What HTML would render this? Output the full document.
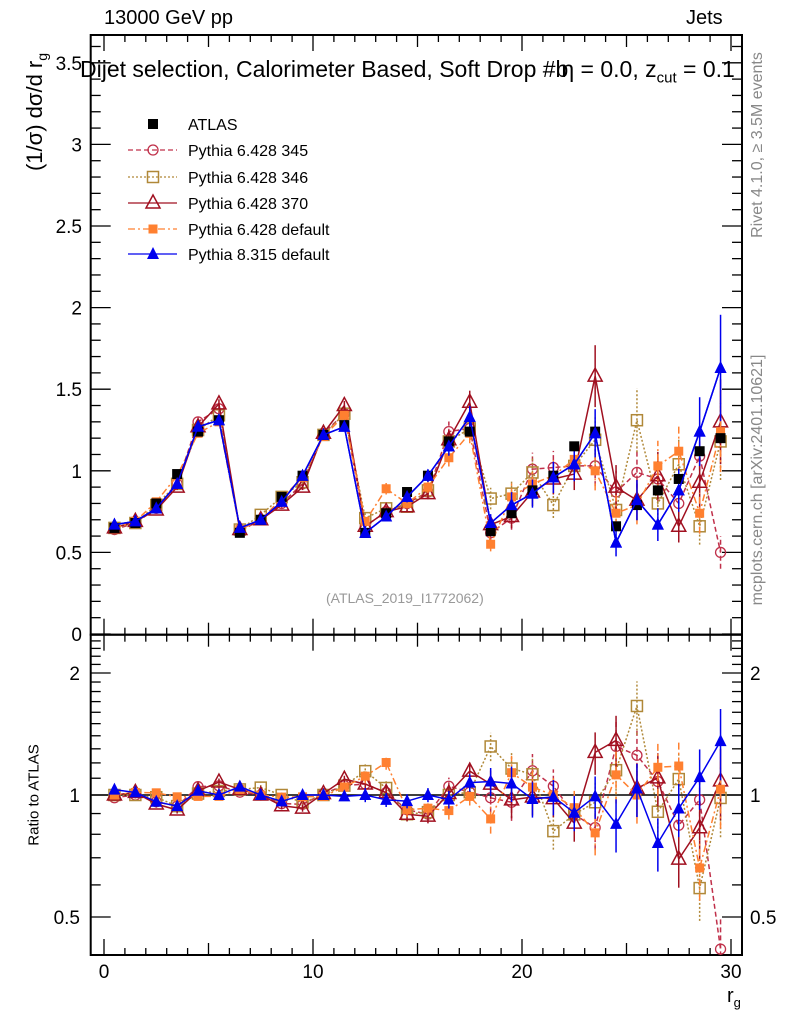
<!DOCTYPE html>
<html><head><meta charset="utf-8"><style>
body{margin:0;background:#fff;}
svg{display:block;font-family:"Liberation Sans",sans-serif;}
</style></head><body>
<svg id="c" width="786" height="1024" xmlns="http://www.w3.org/2000/svg"></svg>
<script>
const bins=[0.5,1.5,2.5,3.5,4.5,5.5,6.5,7.5,8.5,9.5,10.5,11.5,12.5,13.5,14.5,15.5,16.5,17.5,18.5,19.5,20.5,21.5,22.5,23.5,24.5,25.5,26.5,27.5,28.5,29.5];
const atlas=[0.65,0.68,0.80,0.98,1.24,1.31,0.62,0.70,0.84,0.97,1.22,1.28,0.62,0.74,0.87,0.97,1.18,1.24,0.63,0.74,0.88,0.97,1.15,1.24,0.66,0.79,0.88,0.95,1.12,1.20];
const p345=[0.64,0.68,0.77,0.92,1.30,1.38,0.63,0.70,0.80,0.92,1.23,1.35,0.66,0.75,0.80,0.87,1.24,1.26,0.62,0.71,1.01,1.02,1.03,1.03,0.87,0.99,0.95,0.80,1.09,0.50];
const p346=[0.65,0.68,0.79,0.92,1.25,1.34,0.64,0.73,0.84,0.93,1.22,1.35,0.71,0.77,0.78,0.88,1.18,1.26,0.83,0.86,0.99,0.79,1.03,1.19,0.76,1.31,0.80,1.04,0.66,1.18];
const p370=[0.65,0.69,0.76,0.90,1.27,1.41,0.64,0.70,0.79,0.90,1.23,1.40,0.66,0.75,0.78,0.86,1.19,1.42,0.67,0.72,0.87,0.95,0.98,1.58,0.90,0.82,0.97,0.66,0.93,1.30];
const p6def=[0.65,0.69,0.81,0.97,1.23,1.30,0.64,0.70,0.83,0.96,1.21,1.34,0.69,0.89,0.80,0.90,1.08,1.23,0.55,0.84,0.92,0.97,1.07,1.00,0.74,0.79,1.03,1.12,0.74,1.24];
const p8def=[0.67,0.69,0.77,0.92,1.27,1.31,0.65,0.70,0.81,0.97,1.22,1.27,0.62,0.72,0.84,0.97,1.15,1.33,0.68,0.79,0.86,0.96,1.04,1.23,0.56,0.82,0.67,0.88,1.24,1.63];
const relErr=[0.02,0.02,0.02,0.02,0.02,0.02,0.02,0.02,0.02,0.02,0.02,0.02,0.04,0.04,0.04,0.04,0.05,0.05,0.08,0.1,0.1,0.1,0.1,0.12,0.15,0.15,0.15,0.15,0.17,0.2];
const yTicksTop=["0","0.5","1","1.5","2","2.5","3","3.5"];
const xTicks=[0,10,20,30];

const NS="http://www.w3.org/2000/svg";
const svg=document.getElementById('c');
function el(t,a,p){const e=document.createElementNS(NS,t);for(const k in a)e.setAttribute(k,a[k]);(p||svg).appendChild(e);return e;}
const L=90.7,R=742,T=35,M=634.7,B=955;
const X=v=>104+20.9*v;
const Y=v=>634-163.2*v;
const YR=r=>795-122*Math.log2(r);

const series=[
 {name:"Pythia 6.428 345",d:p345,c:"#c0304a",dash:"5,3",m:"circ"},
 {name:"Pythia 6.428 346",d:p346,c:"#b08838",dash:"2,2",m:"osq"},
 {name:"Pythia 6.428 370",d:p370,c:"#a01020",dash:"",m:"otri"},
 {name:"Pythia 6.428 default",d:p6def,c:"#ff8030",dash:"7,3,2,3",m:"fsq"},
 {name:"Pythia 8.315 default",d:p8def,c:"#0000ee",dash:"",m:"ftri"}];

function marker(g,m,x,y,c){
 if(m=="circ")el('circle',{cx:x,cy:y,r:5,fill:"none",stroke:c,"stroke-width":1.3},g);
 else if(m=="osq")el('rect',{x:x-5.5,y:y-5.5,width:11,height:11,fill:"none",stroke:c,"stroke-width":1.5},g);
 else if(m=="fsq")el('rect',{x:x-4.5,y:y-4.5,width:9,height:9,fill:c},g);
 else if(m=="bsq")el('rect',{x:x-5,y:y-5,width:10,height:10,fill:c},g);
 else if(m=="otri")el('polygon',{points:`${x},${y-8} ${x-7},${y+5} ${x+7},${y+5}`,fill:"none",stroke:c,"stroke-width":1.5},g);
 else el('polygon',{points:`${x},${y-7} ${x-6},${y+5} ${x+6},${y+5}`,fill:c},g);
}
function clipR(id,y0,y1){const d=el('clipPath',{id:id});el('rect',{x:L,y:y0,width:R-L,height:y1-y0},d);}
clipR('ct',T,M);clipR('cb',M,B);

el('rect',{x:L,y:T,width:R-L,height:M-T,fill:"none",stroke:"#000","stroke-width":2,});
el('rect',{x:L,y:M,width:R-L,height:B-M,fill:"none",stroke:"#000","stroke-width":2,});

for(let i=0;i<=30;i++){const x=X(i);const len=i%10==0?16:(i%5==0?12:7);
 for(const [y0,dir] of [[T,1],[M,-1],[M,1],[B,-1]]) el('line',{x1:x,x2:x,y1:y0,y2:y0+dir*len,stroke:"#000","stroke-width":1.3});}
xTicks.forEach(v=>{const t=el('text',{x:X(v),y:978,"font-size":19,"text-anchor":"middle"});t.textContent=v;
 });
for(let i=0;i<=36;i++){const v=i/10,y=Y(v);const len=i%5==0?20:10;
 el('line',{x1:L,x2:L+len,y1:y,y2:y,stroke:"#000","stroke-width":1.3});el('line',{x1:R,x2:R-len,y1:y,y2:y,stroke:"#000","stroke-width":1.3});}
yTicksTop.forEach((s,i)=>{const t=el('text',{x:82,y:Y(i*0.5)+7,"font-size":19,"text-anchor":"end"});t.textContent=s;
 });
[0.4,0.5,0.6,0.7,0.8,0.9,1,1.1,1.2,1.3,1.4,1.5,1.6,1.7,1.8,1.9,2,2.1,2.2,2.3,2.4,2.5].forEach(v=>{const y=YR(v);if(y<M||y>B)return;
 const len=(v==0.5||v==1||v==2)?20:10;
 el('line',{x1:L,x2:L+len,y1:y,y2:y,stroke:"#000","stroke-width":1.3});el('line',{x1:R,x2:R-len,y1:y,y2:y,stroke:"#000","stroke-width":1.3});});
[["0.5",0.5],["1",1],["2",2]].forEach(([s,v])=>{
 let t=el('text',{x:80,y:YR(v)+7,"font-size":19,"text-anchor":"end"});t.textContent=s;
 t=el('text',{x:750,y:YR(v)+7,"font-size":19});t.textContent=s;});
el('line',{x1:L,x2:R,y1:YR(1),y2:YR(1),stroke:"#000","stroke-width":1.5});

const gt=el('g',{"clip-path":"url(#ct)"}),gb=el('g',{"clip-path":"url(#cb)"});
series.forEach(s=>{
 const g1=el('g',{},gt);
 const g2=el('g',{},gb);
 el('polyline',{points:bins.map((b,i)=>X(b)+","+Y(s.d[i])).join(" "),fill:"none",stroke:s.c,"stroke-width":1.5,"stroke-dasharray":s.dash},g1);
 el('polyline',{points:bins.map((b,i)=>X(b)+","+YR(s.d[i]/atlas[i])).join(" "),fill:"none",stroke:s.c,"stroke-width":1.5,"stroke-dasharray":s.dash},g2);
 bins.forEach((b,i)=>{const x=X(b),v=s.d[i],e=v*relErr[i],r=v/atlas[i],er=r*relErr[i];
  el('line',{x1:x,x2:x,y1:Y(v-e),y2:Y(v+e),stroke:s.c,"stroke-width":1.5,"stroke-dasharray":s.dash},g1);
  el('line',{x1:x,x2:x,y1:YR(r-er),y2:YR(r+er),stroke:s.c,"stroke-width":1.5,"stroke-dasharray":s.dash},g2);
  marker(g1,s.m,x,Y(v),s.c);marker(g2,s.m,x,YR(r),s.c);});
});
const ga=el('g',{},gt);
bins.forEach((b,i)=>marker(ga,"bsq",X(b),Y(atlas[i]),"#000"));
(function(){const s=series[4];const g=el('g',{},gt);
 el('polyline',{points:bins.map((b,i)=>X(b)+","+Y(s.d[i])).join(" "),fill:"none",stroke:s.c,"stroke-width":1.5},g);
 bins.forEach((b,i)=>marker(g,s.m,X(b),Y(s.d[i]),s.c));})();

const lg=el('g',{});
const ly=[124,150,177,203,229,254];
marker(lg,"bsq",153,ly[0],"#000");
let t=el('text',{x:188,y:ly[0]+6,"font-size":16},lg);t.textContent="ATLAS";
series.forEach((s,i)=>{const y=ly[i+1];
 el('line',{x1:128,x2:177,y1:y,y2:y,stroke:s.c,"stroke-width":1.3,"stroke-dasharray":s.dash},lg);
 marker(lg,s.m,153,y,s.c);
 const tt=el('text',{x:188,y:y+6,"font-size":16},lg);tt.textContent=s.name;
 });
</script>
<div style="position:absolute;left:0;top:0;width:786px;height:1024px;pointer-events:none;font-family:'Liberation Sans',sans-serif;">
<div style="position:absolute;left:104px;top:7px;font-size:20px;">13000 GeV pp</div>
<div style="position:absolute;left:686px;top:7px;font-size:20px;">Jets</div>
<div style="position:absolute;left:80px;top:56px;font-size:23px;white-space:nowrap;">Dijet selection, Calorimeter Based, Soft Drop #b<span style="margin-left:-7px">η</span> = 0.0, z<sub style="font-size:15px">cut</sub> = 0.1</div>
<div style="position:absolute;left:36px;top:112px;font-size:22px;white-space:nowrap;transform:translate(-50%,-50%) rotate(-90deg);">(1/σ) dσ/d r<sub style="font-size:14px">g</sub></div>
<div style="position:absolute;left:34px;top:795px;font-size:15px;white-space:nowrap;transform:translate(-50%,-50%) rotate(-90deg);">Ratio to ATLAS</div>
<div style="position:absolute;left:727px;top:985px;font-size:20px;">r<sub style="font-size:13px">g</sub></div>
<div style="position:absolute;left:758px;top:145px;font-size:16px;color:#888;white-space:nowrap;transform:translate(-50%,-50%) rotate(-90deg);">Rivet 4.1.0, ≥ 3.5M events</div>
<div style="position:absolute;left:758px;top:480px;font-size:16px;color:#888;white-space:nowrap;transform:translate(-50%,-50%) rotate(-90deg);">mcplots.cern.ch [arXiv:2401.10621]</div>
<div style="position:absolute;left:326px;top:590px;font-size:14px;color:#999;">(ATLAS_2019_I1772062)</div>
</div>
</body></html>
